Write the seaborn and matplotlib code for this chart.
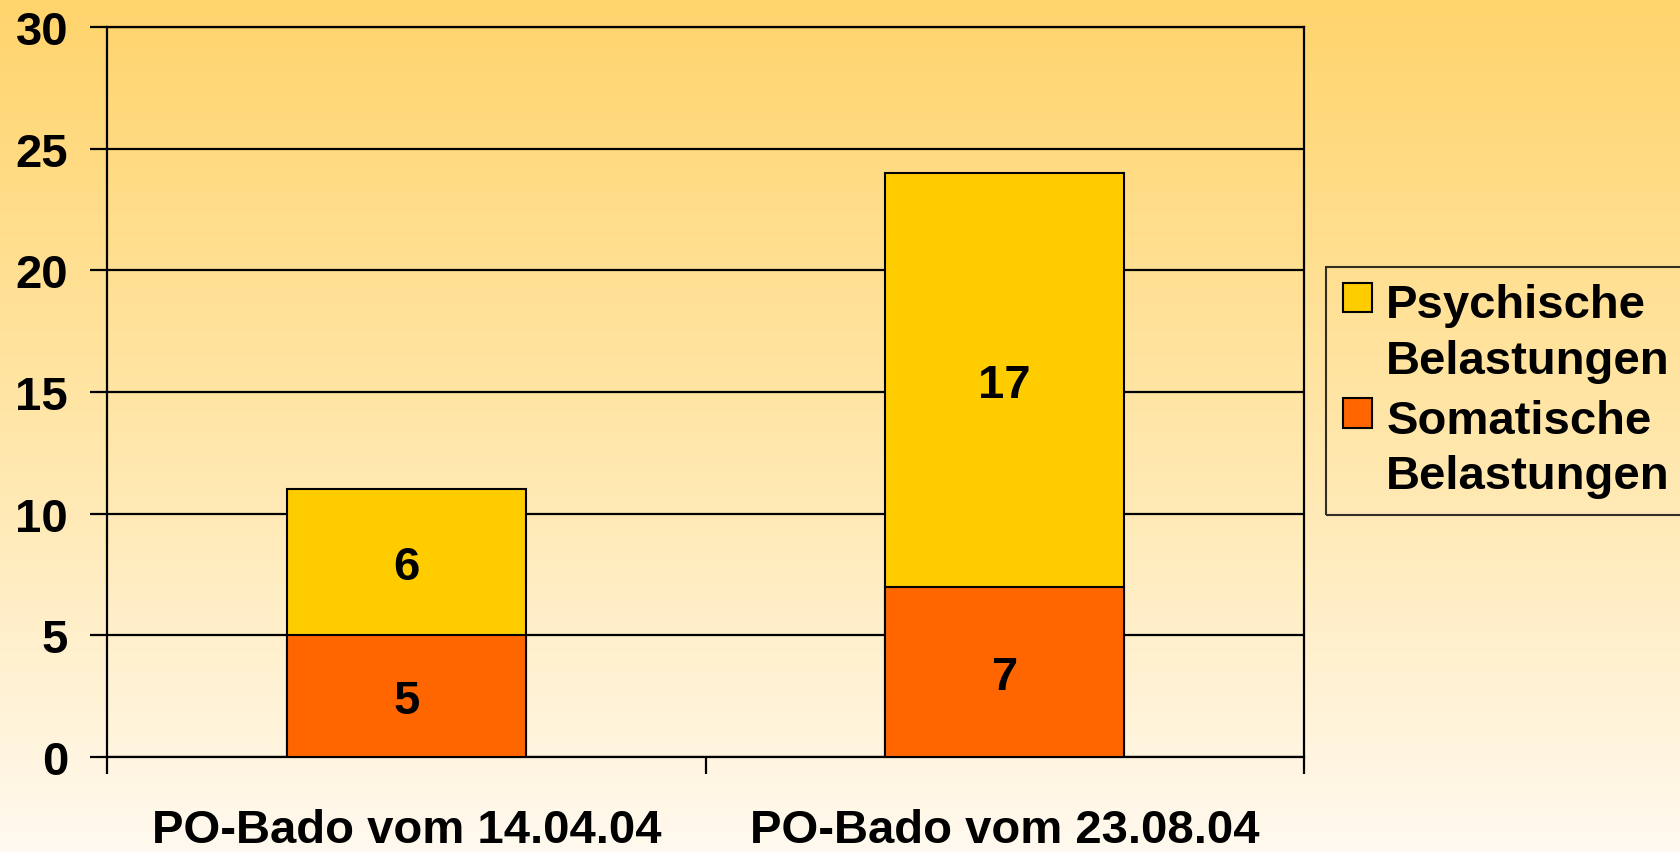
import numpy as np
import pandas as pd
import matplotlib
matplotlib.use("Agg")
import matplotlib.pyplot as plt
from matplotlib.colors import LinearSegmentedColormap
from matplotlib.patches import Patch, Rectangle
from matplotlib.legend_handler import HandlerPatch
import seaborn as sns

# Daten
kategorien = ["PO-Bado vom 14.04.04", "PO-Bado vom 23.08.04"]
somatische = [5, 7]
psychische = [6, 17]
serien = ["Psychische\nBelastungen", "Somatische\nBelastungen"]
y_ticks = [0, 5, 10, 15, 20, 25, 30]

farbe_psych = "#FFCC00"
farbe_soma = "#FF6600"
schrift = 34
zeilenabstand = 1.33

sns.set_theme(style="white")
plt.rcParams['font.family'] = ['Liberation Sans', 'DejaVu Sans']
plt.rcParams['font.weight'] = 'bold'
plt.rcParams['text.color'] = 'black'
plt.rcParams['xtick.color'] = 'black'
plt.rcParams['ytick.color'] = 'black'


class HandlerObenPatch(HandlerPatch):
    """Legendenkaestchen auf Hoehe der ersten Textzeile."""
    def create_artists(self, legend, orig_handle, xdescent, ydescent,
                       width, height, fontsize, trans):
        groesse = 0.62 * fontsize
        verschub = 0.5 * zeilenabstand * 1.15 * fontsize
        r = Rectangle((-xdescent, -ydescent + (height - groesse) / 2 + verschub),
                      groesse, groesse)
        self.update_prop(r, orig_handle, legend)
        r.set_transform(trans)
        return [r]


fig = plt.figure(figsize=(16.81, 8.53), dpi=100)

# Hintergrund mit Verlauf
bg = fig.add_axes([0, 0, 1, 1], zorder=0)
cmap = LinearSegmentedColormap.from_list("bg", ["#FFD46C", "#FFE6A8", "#FFF9EF"])
grad = np.linspace(0, 1, 256).reshape(-1, 1)
bg.imshow(grad, aspect="auto", cmap=cmap, extent=[0, 1, 0, 1], origin="upper")
bg.set_axis_off()

ax = fig.add_axes([0.0637, 0.1114, 0.712, 0.8556], zorder=1)
ax.patch.set_alpha(0)

df = pd.DataFrame({
    "kategorie": kategorien,
    "gesamt": np.array(somatische) + np.array(psychische),
    "somatisch": somatische,
})

sns.barplot(data=df, x="kategorie", y="gesamt", color=farbe_psych, saturation=1,
            width=0.4, edgecolor="black", linewidth=1.5, ax=ax, zorder=3)
sns.barplot(data=df, x="kategorie", y="somatisch", color=farbe_soma, saturation=1,
            width=0.4, edgecolor="black", linewidth=1.5, ax=ax, zorder=4)

# Beschriftungen in den Segmenten
n = len(kategorien)
for i, cont in enumerate(ax.containers):
    werte = psychische if i == 0 else somatische
    for b, w in zip(cont, werte):
        if i == 0:
            m = b.get_y() + b.get_height() - w / 2
        else:
            m = b.get_height() / 2
        ax.text(b.get_x() + b.get_width() / 2, m, str(w), ha="center",
                va="center_baseline", fontsize=schrift, fontweight="bold",
                color="black", zorder=5)

ax.set_ylim(0, 30)
ax.set_xlim(-0.5, n - 0.5)
ax.set_yticks(y_ticks)
ax.yaxis.grid(True, color="black", linewidth=1.6, zorder=1)
ax.set_axisbelow(True)
ax.set_xlabel("")
ax.set_ylabel("")

for s in ax.spines.values():
    s.set_visible(True)
    s.set_color("black")
    s.set_linewidth(1.6)

ax.tick_params(axis="y", which="major", length=12, width=1.6, color="black",
               labelsize=schrift, pad=16, left=True)
ax.tick_params(axis="x", which="major", length=0, labelsize=schrift, pad=37)
ax.set_xticks(np.arange(-0.5, n, 1.0), minor=True)
ax.tick_params(axis="x", which="minor", length=12, width=1.6, color="black", bottom=True)
for lab in ax.get_xticklabels() + ax.get_yticklabels():
    lab.set_fontweight("bold")
    lab.set_color("black")

handles = [Patch(facecolor=farbe_psych, edgecolor="black", linewidth=1.5),
           Patch(facecolor=farbe_soma, edgecolor="black", linewidth=1.5)]
leg = fig.legend(handles, serien, loc="upper left", bbox_to_anchor=(0.789, 0.686),
                 fontsize=schrift, frameon=True, fancybox=False, handlelength=0.62,
                 handleheight=0.62, handletextpad=0.3, borderpad=0.35,
                 labelspacing=0.35, borderaxespad=0,
                 handler_map={Patch: HandlerObenPatch()})
leg.get_frame().set_edgecolor("black")
leg.get_frame().set_linewidth(1.5)
leg.get_frame().set_facecolor("none")
for t in leg.get_texts():
    t.set_fontweight("bold")
    t.set_color("black")
    t.set_linespacing(zeilenabstand)

fig.savefig("out.png", dpi=100)
